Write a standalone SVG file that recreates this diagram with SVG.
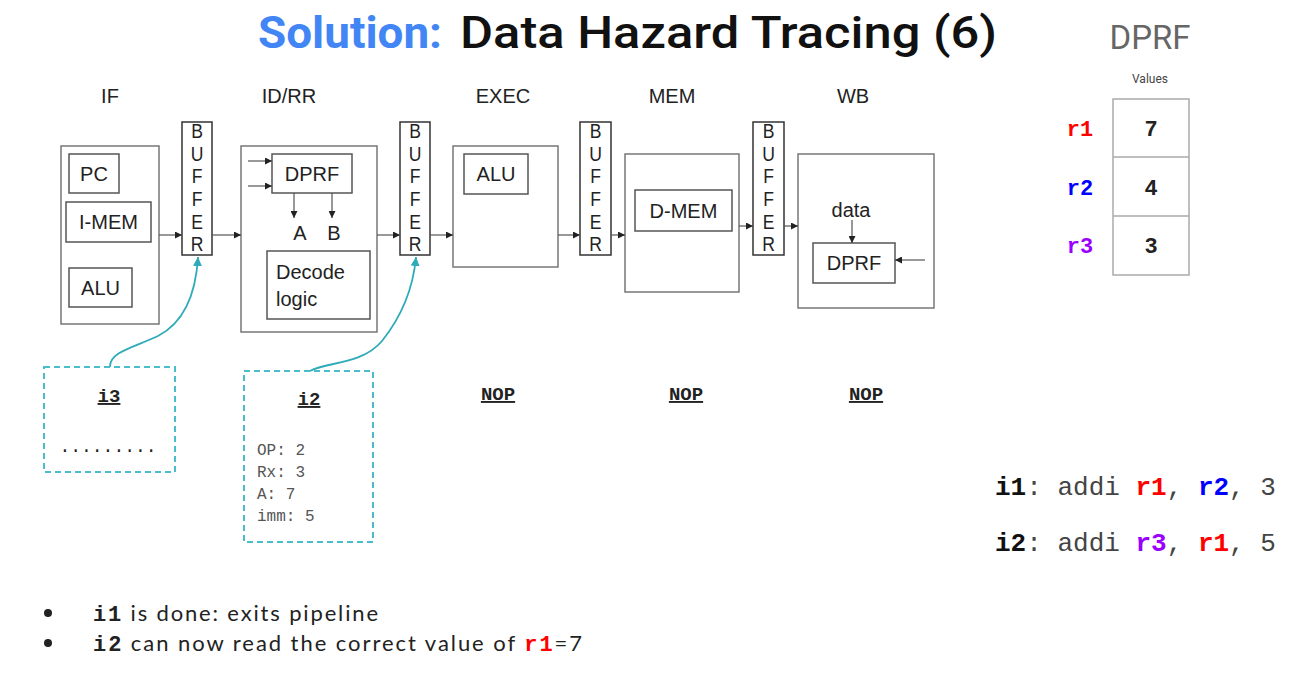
<svg xmlns="http://www.w3.org/2000/svg" width="1297" height="695" viewBox="0 0 1297 695">
<style>
.stage{fill:none;stroke:#777;stroke-width:1.5}
.inner{fill:none;stroke:#555;stroke-width:1.5}
.buf{fill:#fff;stroke:#333;stroke-width:1.5}
.lbl{font-family:"Liberation Sans",Arial,sans-serif;font-size:20px;fill:#222}
.buft{font-family:"Liberation Sans",Arial,sans-serif;font-size:18.5px;fill:#222;writing-mode:vertical-rl;text-orientation:upright}
.conn{stroke:#555;stroke-width:1.2;fill:none}
.teal{stroke:#2eaab9;stroke-width:1.8;fill:none}
.dash{fill:none;stroke:#4bbccb;stroke-width:2;stroke-dasharray:6,4}
.mono{font-family:"Liberation Mono","Courier New",monospace}
.cap{font-family:"Liberation Mono","Courier New",monospace;font-weight:bold;font-size:19px;fill:#222;text-decoration:underline;text-anchor:middle}
.det{font-family:"Liberation Mono","Courier New",monospace;font-size:16px;fill:#555}
.reg{font-family:"Liberation Mono","Courier New",monospace;font-weight:bold;font-size:22px}
.ins{font-family:"Liberation Mono","Courier New",monospace;font-size:26px;fill:#444}
.bul{font-family:Lato,"Liberation Sans",sans-serif;font-size:22px;fill:#222}
</style>
<defs>
<marker id="ah" viewBox="0 0 10 10" refX="10" refY="5" markerWidth="7" markerHeight="7" orient="auto" markerUnits="userSpaceOnUse"><path d="M0,0 L10,5 L0,10 z" fill="#222"/></marker>
<marker id="aht" viewBox="0 0 10 10" refX="10" refY="5" markerWidth="9" markerHeight="9" orient="auto" markerUnits="userSpaceOnUse"><path d="M0,0 L10,5 L0,10 z" fill="#2eaab9"/></marker>
</defs>
<rect width="1297" height="695" fill="#fff"/>

<g id="title">
<text x="258" y="48" font-family="Roboto,'Liberation Sans',sans-serif" font-size="44" font-weight="bold" fill="#4285f4" textLength="184" lengthAdjust="spacingAndGlyphs">Solution:</text>
<text x="460" y="48" font-family="Roboto,'Liberation Sans',sans-serif" font-size="44" font-weight="500" fill="#111" textLength="537" lengthAdjust="spacingAndGlyphs">Data Hazard Tracing (6)</text>
</g>

<g id="stage-labels">
<text class="lbl" x="110" y="103" text-anchor="middle">IF</text>
<text class="lbl" x="289" y="103" text-anchor="middle">ID/RR</text>
<text class="lbl" x="503" y="103" text-anchor="middle">EXEC</text>
<text class="lbl" x="672" y="103" text-anchor="middle">MEM</text>
<text class="lbl" x="853" y="103" text-anchor="middle">WB</text>
</g>

<g id="if-stage">
<rect class="stage" x="61" y="146" width="98" height="178"/>
<rect class="inner" x="69" y="154" width="50" height="39"/>
<text class="lbl" x="94" y="181" text-anchor="middle">PC</text>
<rect class="inner" x="66" y="202" width="85" height="40"/>
<text class="lbl" x="108.5" y="229" text-anchor="middle">I-MEM</text>
<rect class="inner" x="69" y="268" width="63" height="39"/>
<text class="lbl" x="100.5" y="295" text-anchor="middle">ALU</text>
</g>

<g id="buffer1">
<rect class="buf" x="182" y="122" width="30" height="133"/>
<text class="buft" transform="translate(197,0) scale(0.95,1.12)" x="0" y="107">BUFFER</text>
</g>

<g id="idrr-stage">
<rect class="stage" x="241" y="146" width="136" height="186"/>
<rect class="inner" x="272" y="154" width="80" height="39"/>
<text class="lbl" x="312" y="181" text-anchor="middle">DPRF</text>
<text class="lbl" x="300" y="240" text-anchor="middle">A</text>
<text class="lbl" x="334" y="240" text-anchor="middle">B</text>
<rect class="inner" x="267" y="251" width="103" height="68"/>
<text class="lbl" x="276" y="279">Decode</text>
<text class="lbl" x="276" y="306">logic</text>
</g>

<g id="buffer2">
<rect class="buf" x="400" y="122" width="30" height="133"/>
<text class="buft" transform="translate(415,0) scale(0.95,1.12)" x="0" y="107">BUFFER</text>
</g>

<g id="exec-stage">
<rect class="stage" x="453" y="146" width="105" height="121"/>
<rect class="inner" x="464" y="154" width="64" height="40"/>
<text class="lbl" x="496" y="181" text-anchor="middle">ALU</text>
</g>

<g id="buffer3">
<rect class="buf" x="580" y="122" width="31" height="133"/>
<text class="buft" transform="translate(595.5,0) scale(0.95,1.12)" x="0" y="107">BUFFER</text>
</g>

<g id="mem-stage">
<rect class="stage" x="625" y="154" width="114" height="138" stroke="#333"/>
<rect class="inner" x="635" y="190" width="97" height="41"/>
<text class="lbl" x="683.5" y="218" text-anchor="middle">D-MEM</text>
</g>

<g id="buffer4">
<rect class="buf" x="753" y="122" width="31" height="133"/>
<text class="buft" transform="translate(768.5,0) scale(0.95,1.12)" x="0" y="107">BUFFER</text>
</g>

<g id="wb-stage">
<rect class="stage" x="798" y="154" width="136" height="154"/>
<text class="lbl" x="851" y="217" text-anchor="middle">data</text>
<rect class="inner" x="813" y="243" width="82" height="40"/>
<text class="lbl" x="854" y="270" text-anchor="middle">DPRF</text>
</g>

<g id="connectors">
<line class="conn" x1="159" y1="235" x2="182" y2="235" marker-end="url(#ah)"/>
<line class="conn" x1="212" y1="235" x2="241" y2="235" marker-end="url(#ah)"/>
<line class="conn" x1="248" y1="161" x2="272" y2="161" marker-end="url(#ah)"/>
<line class="conn" x1="248" y1="186" x2="272" y2="186" marker-end="url(#ah)"/>
<line class="conn" x1="294" y1="193" x2="294" y2="218" marker-end="url(#ah)"/>
<line class="conn" x1="332" y1="193" x2="332" y2="218" marker-end="url(#ah)"/>
<line class="conn" x1="377" y1="235" x2="400" y2="235" marker-end="url(#ah)"/>
<line class="conn" x1="430" y1="235" x2="453" y2="235" marker-end="url(#ah)"/>
<line class="conn" x1="558" y1="235" x2="580" y2="235" marker-end="url(#ah)"/>
<line class="conn" x1="611" y1="235" x2="625" y2="235" marker-end="url(#ah)"/>
<line class="conn" x1="739" y1="226" x2="753" y2="226" marker-end="url(#ah)"/>
<line class="conn" x1="784" y1="226" x2="798" y2="226" marker-end="url(#ah)"/>
<line class="conn" x1="852" y1="220" x2="852" y2="243" marker-end="url(#ah)"/>
<line class="conn" x1="925" y1="260" x2="895" y2="260" marker-end="url(#ah)"/>
<path class="teal" d="M110,367 C109,352 135,347 158,336 C185,322 196,292 198,257" marker-end="url(#aht)"/>
<path class="teal" d="M310,371 C325,362 362,365 382,341 C402,316 413,290 416,257" marker-end="url(#aht)"/>
</g>

<g id="i3-box">
<rect class="dash" x="44" y="367" width="131" height="105"/>
<text class="cap" x="109" y="402">i3</text>
<text class="mono" x="108" y="452" font-size="18" fill="#222" text-anchor="middle">.........</text>
</g>

<g id="i2-box">
<rect class="dash" x="244" y="371" width="129" height="171"/>
<text class="cap" x="309" y="405">i2</text>
<text class="det" x="257" y="455">OP: 2</text>
<text class="det" x="257" y="477">Rx: 3</text>
<text class="det" x="257" y="499">A: 7</text>
<text class="det" x="257" y="521">imm: 5</text>
</g>

<g id="nops">
<text class="cap" x="498" y="400">NOP</text>
<text class="cap" x="686" y="400">NOP</text>
<text class="cap" x="866" y="400">NOP</text>
</g>

<g id="dprf-table">
<text x="1150" y="49" font-family="Roboto,'Liberation Sans',sans-serif" font-size="33" fill="#666" text-anchor="middle">DPRF</text>
<text x="1150" y="83" font-family="Roboto,'Liberation Sans',sans-serif" font-size="12" fill="#444" text-anchor="middle">Values</text>
<rect x="1113" y="99" width="76" height="176" fill="none" stroke="#aaa" stroke-width="1.5"/>
<line x1="1113" y1="157" x2="1189" y2="157" stroke="#aaa" stroke-width="1.5"/>
<line x1="1113" y1="216" x2="1189" y2="216" stroke="#aaa" stroke-width="1.5"/>
<text class="reg" x="1080" y="136" fill="#ff0000" text-anchor="middle">r1</text>
<text class="reg" x="1080" y="195" fill="#0000ff" text-anchor="middle">r2</text>
<text class="reg" x="1080" y="253" fill="#9900ff" text-anchor="middle">r3</text>
<text class="reg" x="1151" y="136" fill="#222" text-anchor="middle">7</text>
<text class="reg" x="1151" y="195" fill="#222" text-anchor="middle">4</text>
<text class="reg" x="1151" y="253" fill="#222" text-anchor="middle">3</text>
</g>

<g id="instructions">
<text class="ins" x="995" y="495" xml:space="preserve"><tspan font-weight="bold" fill="#111">i1</tspan>: addi <tspan font-weight="bold" fill="#ff0000">r1</tspan>, <tspan font-weight="bold" fill="#0000ff">r2</tspan>, 3</text>
<text class="ins" x="995" y="551" xml:space="preserve"><tspan font-weight="bold" fill="#111">i2</tspan>: addi <tspan font-weight="bold" fill="#9900ff">r3</tspan>, <tspan font-weight="bold" fill="#ff0000">r1</tspan>, 5</text>
</g>

<g id="bullets">
<circle cx="48" cy="613" r="4" fill="#222"/>
<circle cx="48" cy="643" r="4" fill="#222"/>
<text class="bul" x="93" y="621" textLength="285" lengthAdjust="spacing"><tspan class="mono" font-weight="bold" fill="#222">i1</tspan> is done: exits pipeline</text>
<text class="bul" x="93" y="651" textLength="489" lengthAdjust="spacing"><tspan class="mono" font-weight="bold" fill="#222">i2</tspan> can now read the correct value of <tspan class="mono" font-weight="bold" fill="#ff0000">r1</tspan>=7</text>
</g>
</svg>
